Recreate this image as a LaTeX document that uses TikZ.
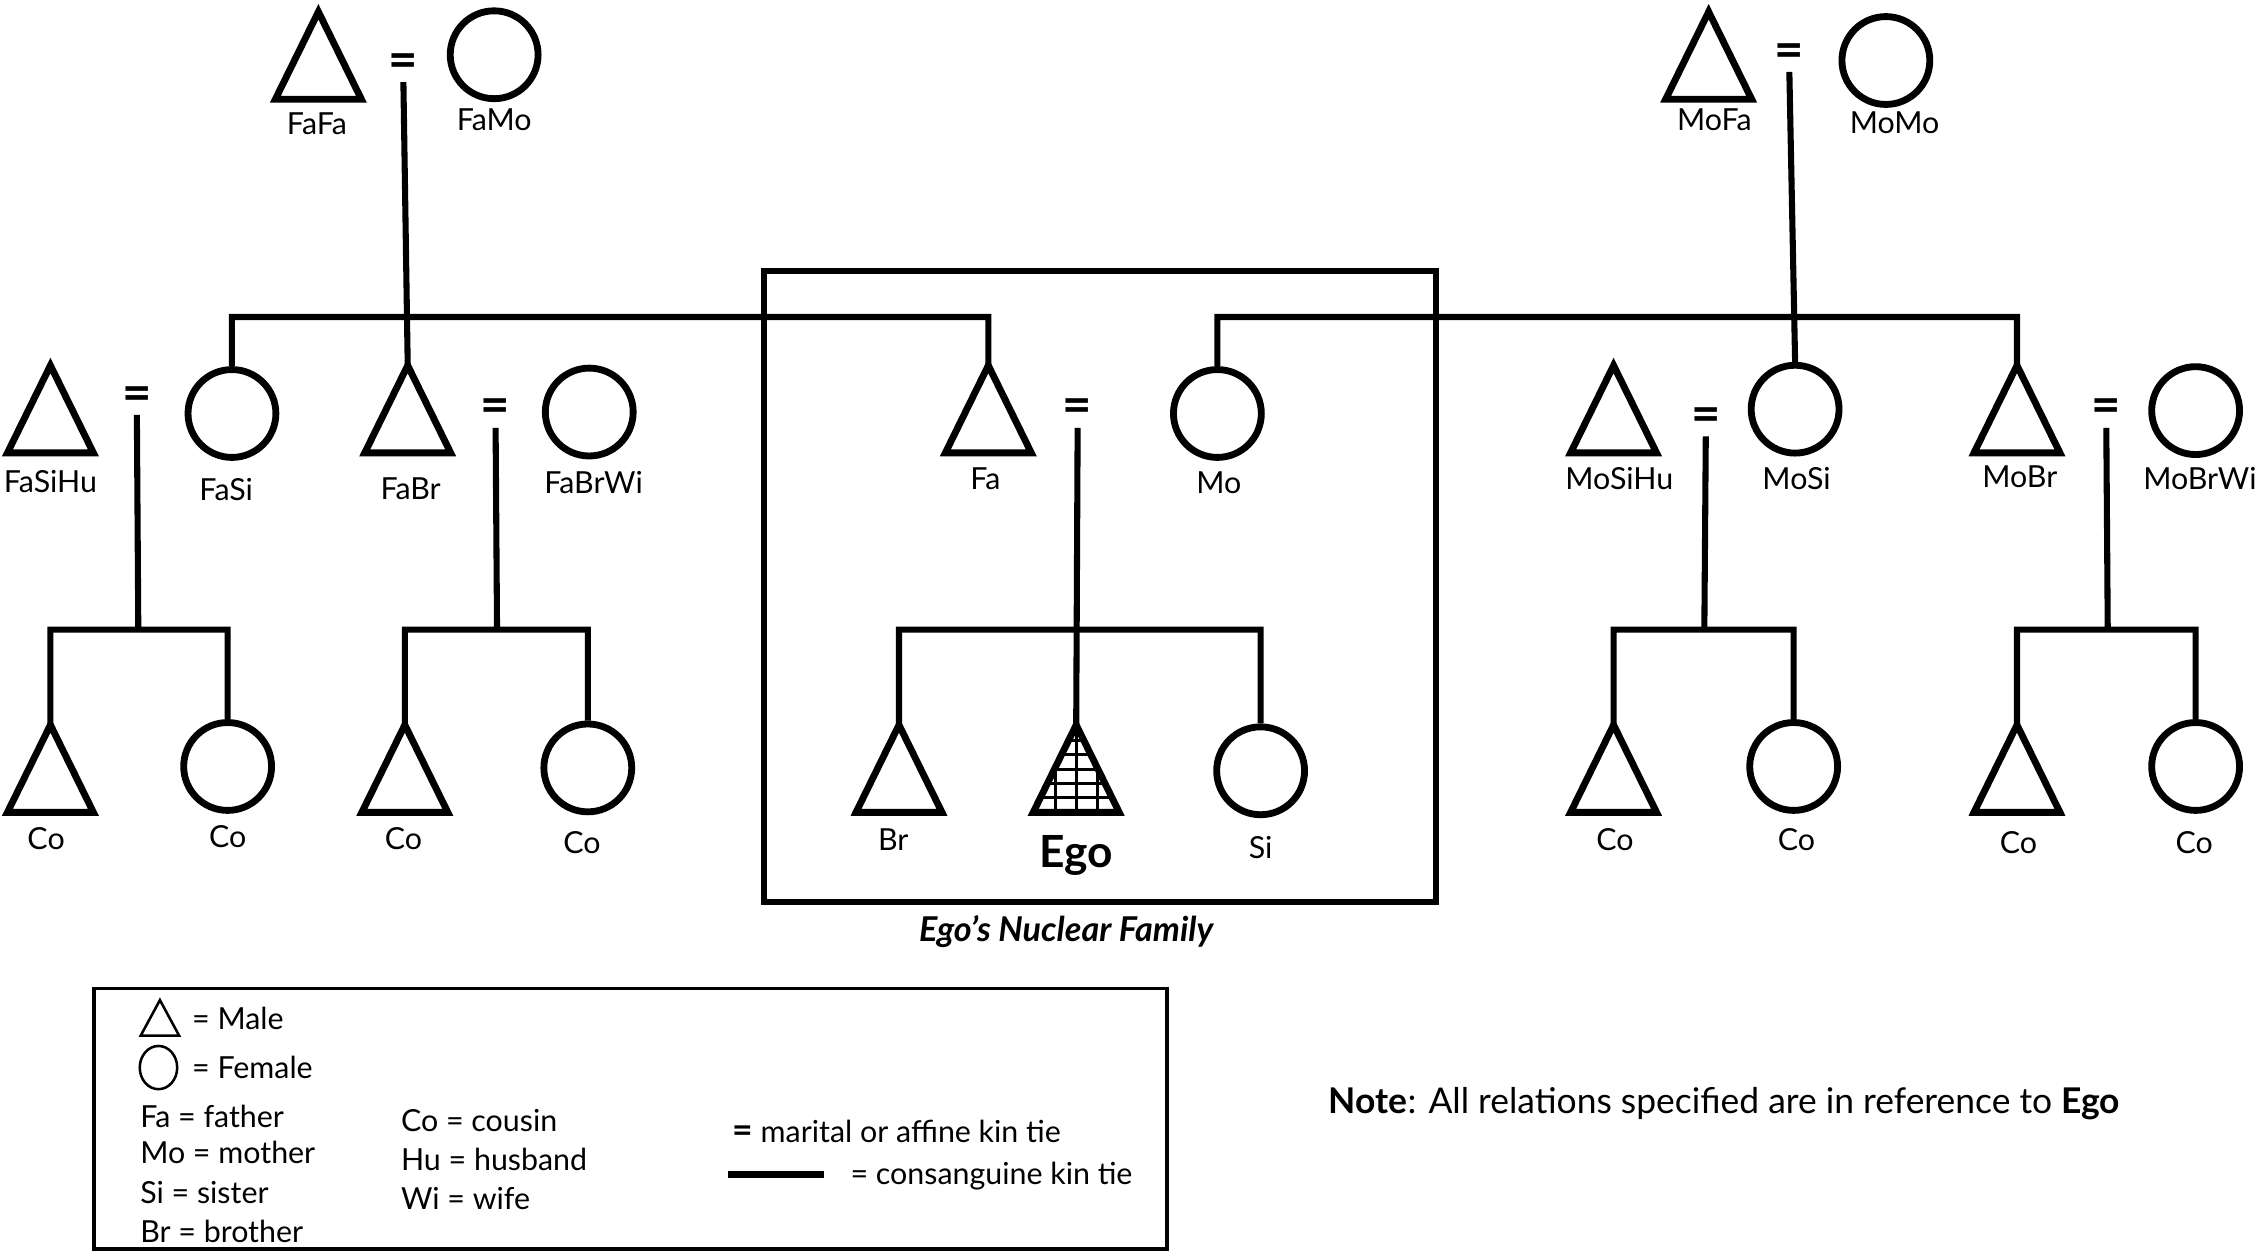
\documentclass[tikz,border=0pt]{standalone}
\usepackage{fontspec}
\setmainfont{Lato}
\usetikzlibrary{shapes.geometric}

\begin{document}
\begin{tikzpicture}[x=0.02cm, y=-0.02cm]
\tikzstyle{kin}=[line width=2.4pt]
\tikzstyle{sym}=[line width=2.7pt]
\tikzstyle{male}=[inner sep=0pt, minimum width=1.18cm, minimum height=1.2cm]
\tikzstyle{female}=[draw, circle, sym, inner sep=0pt, minimum size=1.22cm]
\tikzstyle{wed}=[inner xsep=0pt, inner ysep=1.7pt, text height=13.2pt, text depth=0pt, font=\fontsize{20}{20}\selectfont\bfseries]
\tikzstyle{lbl}=[inner sep=0pt, text height=8.6pt, text depth=0pt, font=\fontsize{12}{14}\selectfont]
\tikzstyle{key}=[anchor=west, inner sep=0pt, font=\fontsize{12}{14}\selectfont]
\useasboundingbox (0,0) rectangle (1568,870);

\node[male] (fafa) at (221,38.5) {};
\node[female] (famo) at (343,38) {};
\node[wed] (wff) at (280,42) {=};
\node[male] (mofa) at (1186,38.5) {};
\node[female] (momo) at (1309,42) {};
\node[wed] (wmf) at (1242,35) {=};

\node[male] (fasihu) at (35,284) {};
\node[female] (fasi) at (161,287) {};
\node[wed] (wfs) at (95,273) {=};
\node[male] (fabr) at (283,284) {};
\node[female] (fabrwi) at (409,286) {};
\node[wed] (wfb) at (344,282) {=};
\node[male] (fa) at (686,284) {};
\node[female] (mo) at (845,287) {};
\node[wed] (wego) at (748,282) {=};
\node[male] (mosihu) at (1120,284) {};
\node[female] (mosi) at (1246,284) {};
\node[wed] (wms) at (1184,288) {=};
\node[male] (mobr) at (1400,284) {};
\node[female] (mobrwi) at (1524,285) {};
\node[wed] (wmb) at (1462,282) {=};

\node[male] (co1) at (35,533.5) {};
\node[female] (co2) at (158,532) {};
\node[male] (co3) at (281,533.5) {};
\node[female] (co4) at (408,533) {};
\node[male] (br) at (624,533.5) {};
\node[male] (ego) at (747,533.5) {};
\node[female] (si) at (875,535) {};
\node[male] (co5) at (1120,533.5) {};
\node[female] (co6) at (1245,532) {};
\node[male] (co7) at (1400,533.5) {};
\node[female] (co8) at (1524,532) {};

\begin{scope}[shift={(ego.south)}]
\clip (ego.north) -- (ego.south east) -- (ego.south west) -- cycle;
\draw[line width=1.2pt, xstep=0.29cm, ystep=0.2cm] (-40,-70) grid (40,0);
\end{scope}
\foreach \n in {fafa,mofa,fasihu,fabr,fa,mosihu,mobr,co1,co3,br,ego,co5,co7}
  \draw[sym] (\n.north) -- (\n.south east) -- (\n.south west) -- cycle;

\coordinate (jff) at (283,220);
\coordinate (jmf) at (1245,220);
\coordinate (jfs) at (96,437);
\coordinate (jfb) at (345,437);
\coordinate (jego) at (747,437);
\coordinate (jms) at (1183,437);
\coordinate (jmb) at (1463,437);
\draw[kin] (wff.south) -- (fabr.north)
(fasi.north) |- (jff) -| (fa.north)
(wmf.south) -- (mosi.north)
(mo.north) |- (jmf) -| (mobr.north)
(wfs.south) -- (jfs)
(co1.north) |- (jfs) -| (co2.north)
(wfb.south) -- (jfb)
(co3.north) |- (jfb) -| (co4.north)
(wego.south) -- (ego.north)
(br.north) |- (jego) -| (si.north)
(wms.south) -- (jms)
(co5.north) |- (jms) -| (co6.north)
(wmb.south) -- (jmb)
(co7.north) |- (jmb) -| (co8.north);

\node[lbl] (lfafa) at (220,86) {FaFa};
\node[lbl] (lfamo) at (343,83) {FaMo};
\node[lbl] (lmofa) at (1190,83) {MoFa};
\node[lbl] (lmomo) at (1315,85) {MoMo};
\node[lbl] (lfasihu) at (35,334) {FaSiHu};
\node[lbl] (lfasi) at (157,340) {FaSi};
\node[lbl] (lfabr) at (285,339) {FaBr};
\node[lbl] (lfabrwi) at (412,335) {FaBrWi};
\node[lbl] (lfa) at (684,332) {Fa};
\node[lbl] (lmo) at (846,335) {Mo};
\node[lbl] (lmosihu) at (1124,332) {MoSiHu};
\node[lbl] (lmosi) at (1247,332) {MoSi};
\node[lbl] (lmobr) at (1402,331) {MoBr};
\node[lbl] (lmobrwi) at (1527,332) {MoBrWi};
\node[lbl] (lco1) at (32,582) {Co};
\node[lbl] (lco2) at (158,581) {Co};
\node[lbl] (lco3) at (280,582) {Co};
\node[lbl] (lco4) at (404,585) {Co};
\node[lbl] (lbr) at (620,583) {Br};
\node[lbl, text height=12.5pt, font=\fontsize{17.5}{20}\selectfont\bfseries] (lego) at (747,591) {Ego};
\node[lbl] (lsi) at (875,588) {Si};
\node[lbl] (lco5) at (1121,583) {Co};
\node[lbl] (lco6) at (1247,583) {Co};
\node[lbl] (lco7) at (1401,585) {Co};
\node[lbl] (lco8) at (1523,585) {Co};

\node[draw, kin, inner sep=0pt, minimum width=9.34cm, minimum height=8.76cm] (nucbox) at (763.5,407) {};
\node[lbl, text height=9.7pt, font=\fontsize{13.5}{15}\selectfont\bfseries\itshape] (nuccap) at (740,645) {Ego's Nuclear Family};

\node[draw, line width=1.4pt, inner sep=0pt, minimum width=14.9cm, minimum height=3.62cm] (keybox) at (437.5,776.5) {};
\node[inner sep=0pt, minimum width=0.52cm, minimum height=0.48cm] (keym) at (111,706.5) {};
\draw[line width=1pt] (keym.north) -- (keym.south east) -- (keym.south west) -- cycle;
\node[draw, ellipse, line width=1pt, inner sep=0pt, minimum width=0.52cm, minimum height=0.6cm] (keyf) at (110,741) {};
\node[key] (kmale) at (133,707) {= Male};
\node[key] (kfemale) at (133,741) {= Female};
\node[key] (kfa) at (97,775) {Fa = father};
\node[key] (kmo) at (97,800) {Mo = mother};
\node[key] (ksi) at (97,828) {Si = sister};
\node[key] (kbr) at (97,855) {Br = brother};
\node[key] (kco) at (278,778) {Co = cousin};
\node[key] (khu) at (278,805) {Hu = husband};
\node[key] (kwi) at (278,832) {Wi = wife};
\node[key] (kwed) at (508,785) {{\fontsize{14}{14}\selectfont\bfseries =} marital or affine kin tie};
\coordinate (kinA) at (505,815);
\coordinate (kinB) at (572,815);
\draw[line width=2.8pt] (kinA) -- (kinB);
\node[key] (kkin) at (590,816) {= consanguine kin tie};

\node[key, font=\fontsize{14}{16}\selectfont] (note) at (922,766) {\textbf{Note}: All relations specified are in reference to \textbf{Ego}};
\end{tikzpicture}
\end{document}
